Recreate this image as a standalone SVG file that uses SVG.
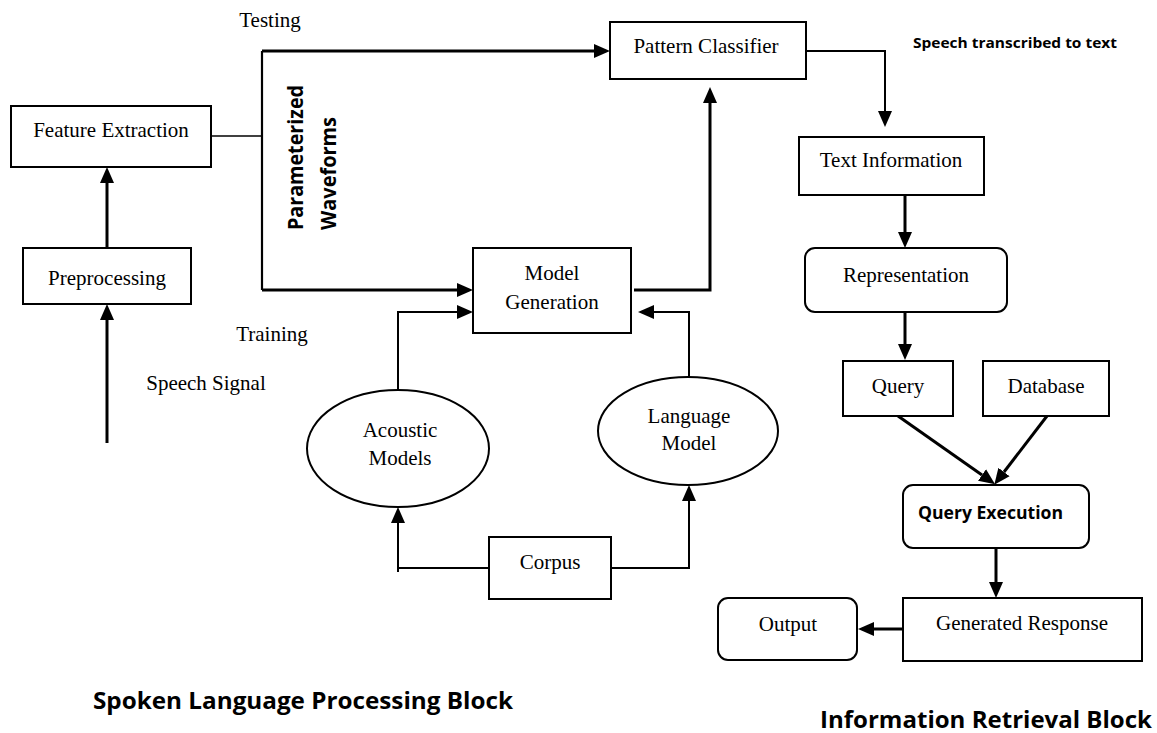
<svg xmlns="http://www.w3.org/2000/svg" width="1157" height="733" viewBox="0 0 1157 733">
<style>
.box{fill:#fff;stroke:#000;stroke-width:2}
.ser{font-family:"Liberation Serif","Times New Roman",serif;font-size:21px;fill:#000;text-anchor:middle}
.bold{font-family:"Open Sans",Lato,sans-serif;font-weight:bold;fill:#000}
.ln{fill:none;stroke:#000;stroke-width:3}
.thin{fill:none;stroke:#000;stroke-width:1.5}
</style>
<defs>
<marker id="ah" markerUnits="userSpaceOnUse" markerWidth="16" markerHeight="16" refX="0" refY="8" orient="auto" viewBox="0 0 16 16">
<path d="M0,1 L16,8 L0,15 z" fill="#000"/>
</marker>
</defs>
<rect width="1157" height="733" fill="#fff"/>

<g id="connectors">
<path class="ln" d="M107,443 V320" marker-end="url(#ah)"/>
<path class="ln" d="M107,248 V183" marker-end="url(#ah)"/>
<path class="thin" d="M211,136 H262"/>
<path class="ln" style="stroke-width:2.2" d="M262,51 V290"/>
<path class="ln" d="M262,51 H594" marker-end="url(#ah)"/>
<path class="ln" d="M262,290 H457" marker-end="url(#ah)"/>
<path class="ln" d="M634,290 H710 V103" marker-end="url(#ah)"/>
<path class="ln" style="stroke-width:2" d="M398,390 V312 H457" marker-end="url(#ah)"/>
<path class="ln" style="stroke-width:2" d="M689,377 V312 H654" marker-end="url(#ah)"/>
<path class="ln" style="stroke-width:2" d="M489,568 H398 V572 M398,572 V523" marker-end="url(#ah)"/>
<path class="ln" style="stroke-width:2" d="M611,568 H689 V501" marker-end="url(#ah)"/>
<path class="ln" style="stroke-width:2" d="M806,51 H885 V111" marker-end="url(#ah)"/>
<path class="ln" d="M905,195 V232" marker-end="url(#ah)"/>
<path class="ln" d="M905,312 V344" marker-end="url(#ah)"/>
<path class="ln" d="M898,416 L982,475" marker-end="url(#ah)"/>
<path class="ln" d="M1047,416 L1004,472" marker-end="url(#ah)"/>
<path class="ln" d="M996,548 V582" marker-end="url(#ah)"/>
<path class="ln" d="M903,629 H874" marker-end="url(#ah)"/>
</g>

<g id="feature-extraction">
<rect class="box" x="11" y="106" width="200" height="61"/>
<text class="ser" x="111" y="137">Feature Extraction</text>
</g>
<g id="preprocessing">
<rect class="box" x="23" y="248" width="168" height="56"/>
<text class="ser" x="107" y="285">Preprocessing</text>
</g>
<g id="pattern-classifier">
<rect class="box" x="610" y="22" width="196" height="57"/>
<text class="ser" x="706" y="53">Pattern Classifier</text>
</g>
<g id="model-generation">
<rect class="box" x="473" y="248" width="158" height="85"/>
<text class="ser" x="552" y="280">Model</text>
<text class="ser" x="552" y="309">Generation</text>
</g>
<g id="acoustic-models">
<ellipse cx="398" cy="448.5" rx="91" ry="58.5" fill="#fff" stroke="#000" stroke-width="2"/>
<text class="ser" x="400" y="437">Acoustic</text>
<text class="ser" x="400" y="465">Models</text>
</g>
<g id="language-model">
<ellipse cx="688" cy="431" rx="90" ry="54" fill="#fff" stroke="#000" stroke-width="2"/>
<text class="ser" x="689" y="423">Language</text>
<text class="ser" x="689" y="450">Model</text>
</g>
<g id="corpus">
<rect class="box" x="489" y="537" width="122" height="62"/>
<text class="ser" x="550" y="569">Corpus</text>
</g>
<g id="text-information">
<rect class="box" x="799" y="137" width="185" height="58"/>
<text class="ser" x="891" y="167">Text Information</text>
</g>
<g id="representation">
<rect class="box" x="805" y="248" width="202" height="64" rx="10"/>
<text class="ser" x="906" y="282">Representation</text>
</g>
<g id="query">
<rect class="box" x="843" y="361" width="110" height="55"/>
<text class="ser" x="898" y="393">Query</text>
</g>
<g id="database">
<rect class="box" x="983" y="361" width="126" height="55"/>
<text class="ser" x="1046" y="393">Database</text>
</g>
<g id="query-execution">
<rect class="box" x="903" y="485" width="186" height="63" rx="10"/>
<text class="bold" x="918" y="519" font-size="17" textLength="145" lengthAdjust="spacingAndGlyphs">Query Execution</text>
</g>
<g id="generated-response">
<rect class="box" x="903" y="598" width="239" height="63"/>
<text class="ser" x="1022" y="630">Generated Response</text>
</g>
<g id="output">
<rect class="box" x="718" y="598" width="139" height="62" rx="10"/>
<text class="ser" x="788" y="631">Output</text>
</g>

<g id="labels">
<text class="ser" x="270" y="27">Testing</text>
<text class="ser" x="272" y="341">Training</text>
<text class="ser" x="206" y="390">Speech Signal</text>
<text class="bold" font-size="21" textLength="145" lengthAdjust="spacingAndGlyphs" transform="translate(303,230) rotate(-90)">Parameterized</text>
<text class="bold" font-size="21" textLength="113" lengthAdjust="spacingAndGlyphs" transform="translate(336,230) rotate(-90)">Waveforms</text>
<text class="bold" x="913" y="48" font-size="14" textLength="204" lengthAdjust="spacingAndGlyphs">Speech transcribed to text</text>
<text class="bold" x="93" y="709" font-size="23" textLength="420" lengthAdjust="spacingAndGlyphs">Spoken Language Processing Block</text>
<text class="bold" x="820" y="728" font-size="23" textLength="332" lengthAdjust="spacingAndGlyphs">Information Retrieval Block</text>
</g>
</svg>
